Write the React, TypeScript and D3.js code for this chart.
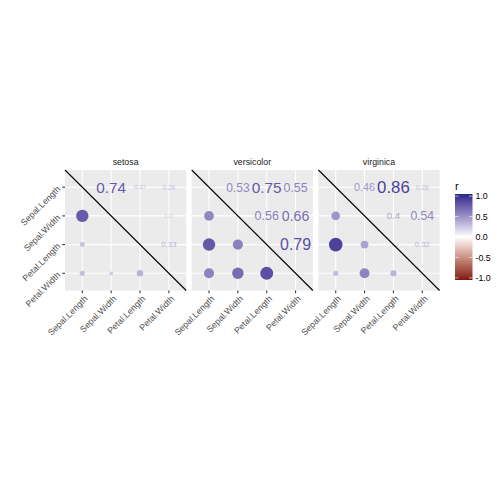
import * as d3 from 'd3'

const species = ['setosa', 'versicolor', 'virginica']
const variables = ['Sepal.Length', 'Sepal.Width', 'Petal.Length', 'Petal.Width']

// pair order: SL-SW, SL-PL, SL-PW, SW-PL, SW-PW, PL-PW
const pairs: [number, number][] = [[0, 1], [0, 2], [0, 3], [1, 2], [1, 3], [2, 3]]
const setosaR = [0.74, 0.27, 0.28, 0.18, 0.23, 0.33]
const versicolorR = [0.53, 0.75, 0.55, 0.56, 0.66, 0.79]
const virginicaR = [0.46, 0.86, 0.28, 0.4, 0.54, 0.32]
const corrBySpecies = [setosaR, versicolorR, virginicaR]

const legendBreaks = [1, 0.5, 0, -0.5, -1]

const font = '"Liberation Sans", Arial, Helvetica, sans-serif'

const App = () => {
  const panelTop = 170
  const panelH = 120.5
  const panelW = 121.2
  const panelLefts = [65, 191.7, 318.4]

  const x = d3.scaleBand<string>().domain(variables).range([0, panelW]).paddingOuter(0.1).paddingInner(0)
  const xc = (v: string) => (x(v) as number) + x.bandwidth() / 2
  const y = d3.scaleBand<string>().domain(variables).range([0, panelH]).paddingOuter(0.1).paddingInner(0)
  const yc = (v: string) => (y(v) as number) + y.bandwidth() / 2

  const allR = corrBySpecies.flat().map(Math.abs)
  const sizeLin = d3.scaleLinear().domain(d3.extent(allR) as [number, number]).range([0, 1])
  const radius = (r: number) => 6.8 * Math.sqrt(sizeLin(Math.abs(r)))
  const fontSize = (r: number) => 16.8 * Math.sqrt(sizeLin(Math.abs(r)))

  const color = d3.scaleLinear<string>()
    .domain([-1, 0, 1])
    .range(['#7f1414', '#ffffff', '#28288a'])
    .interpolate(d3.interpolateLab)

  const barX = 455
  const barW = 17.5
  const barTop = 194
  const barH = 86
  const legendY = d3.scaleLinear().domain([1, -1]).range([barTop + barH / 40, barTop + barH - barH / 40])
  const gradStops = d3.range(0, 21).map(i => 1 - i / 10)

  return (
    <svg width={504} height={504} style={{ position: 'absolute', left: 0, top: 0, background: '#fff' }} fontFamily={font}>
      <defs>
        <linearGradient id="rbar" x1="0" y1="0" x2="0" y2="1">
          {gradStops.map((v, i) => (
            <stop key={i} offset={`${(i / (gradStops.length - 1)) * 100}%`} stopColor={color(v)} />
          ))}
        </linearGradient>
      </defs>

      {species.map((sp, si) => {
        const left = panelLefts[si]
        const rs = corrBySpecies[si]
        return (
          <g key={sp}>
            <text x={left + panelW / 2} y={panelTop - 5} textAnchor="middle" fontSize={8.8} fill="#1a1a1a">{sp}</text>
            <g transform={`translate(${left},${panelTop})`}>
              <rect width={panelW} height={panelH} fill="#ebebeb" />
              {variables.map(v => (
                <line key={'gx' + v} x1={xc(v)} x2={xc(v)} y1={0} y2={panelH} stroke="#fff" strokeWidth={1.07} />
              ))}
              {variables.map(v => (
                <line key={'gy' + v} y1={yc(v)} y2={yc(v)} x1={0} x2={panelW} stroke="#fff" strokeWidth={1.07} />
              ))}
              {pairs.map(([a, b], k) => {
                const r = rs[k]
                const rad = radius(r)
                if (rad <= 0) return null
                return <circle key={'c' + k} cx={xc(variables[a])} cy={yc(variables[b])} r={rad} fill={color(r)} />
              })}
              {pairs.map(([a, b], k) => {
                const r = rs[k]
                const fs = fontSize(r)
                if (fs <= 0.5) return null
                return (
                  <text key={'t' + k} x={xc(variables[b])} y={yc(variables[a])} dy="0.36em" textAnchor="middle"
                    fontSize={fs} fill={color(r)}>{String(r)}</text>
                )
              })}
              <line x1={0} y1={0} x2={panelW} y2={panelH} stroke="#000" strokeWidth={1.07} />
              {/* x axis */}
              {variables.map(v => (
                <g key={'xa' + v}>
                  <line x1={xc(v)} x2={xc(v)} y1={panelH} y2={panelH + 2.7} stroke="#333" strokeWidth={1.07} />
                  <text transform={`translate(${xc(v) + 1.5},${panelH + 4.5}) rotate(-45)`} textAnchor="end" dy="0.7em"
                    fontSize={8.8} fill="#4d4d4d">{v}</text>
                </g>
              ))}
              {si === 0 && variables.map(v => (
                <g key={'ya' + v}>
                  <line x1={-2.7} x2={0} y1={yc(v)} y2={yc(v)} stroke="#333" strokeWidth={1.07} />
                  <text transform={`translate(-4,${yc(v) + 2.3}) rotate(-45)`} textAnchor="end"
                    fontSize={8.8} fill="#4d4d4d">{v}</text>
                </g>
              ))}
            </g>
          </g>
        )
      })}

      {/* legend */}
      <text x={barX} y={190} fontSize={11} fill="#000">r</text>
      <rect x={barX} y={barTop} width={barW} height={barH} fill="url(#rbar)" />
      {legendBreaks.map(b => (
        <g key={'lb' + b}>
          <line x1={barX} x2={barX + barW / 5} y1={legendY(b)} y2={legendY(b)} stroke="#fff" strokeWidth={0.6} />
          <line x1={barX + barW - barW / 5} x2={barX + barW} y1={legendY(b)} y2={legendY(b)} stroke="#fff" strokeWidth={0.6} />
          <text x={barX + barW + 3} y={legendY(b)} dy="0.35em" fontSize={8.8} fill="#000">{b.toFixed(1)}</text>
        </g>
      ))}
    </svg>
  )
}

export default App
